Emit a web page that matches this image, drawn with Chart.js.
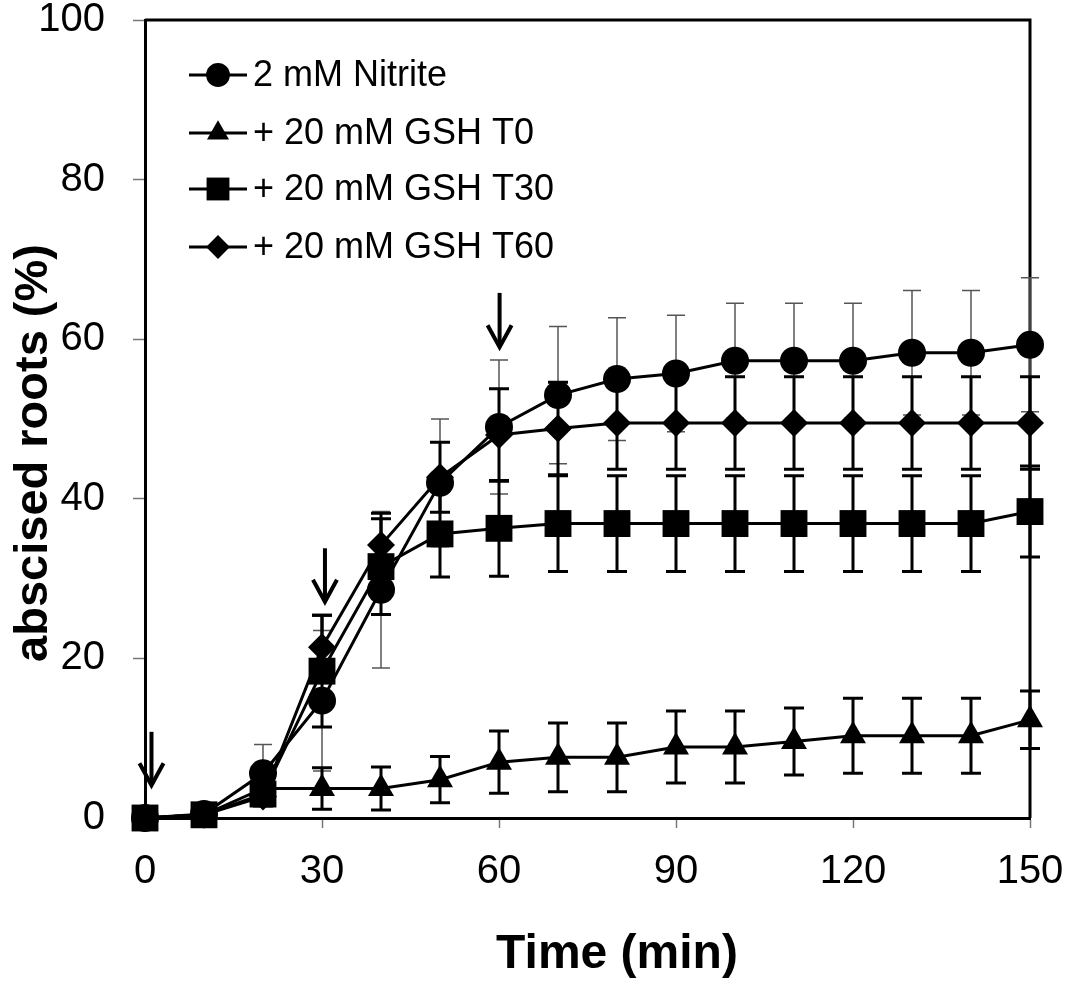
<!DOCTYPE html>
<html>
<head>
<meta charset="utf-8">
<script src="https://cdn.jsdelivr.net/npm/chart.js@4.4.1/dist/chart.umd.min.js"></script>
<style>
  body { margin: 0; background: #fff; }
  #wrap { width: 1066px; height: 989px; }
</style>
</head>
<body>
<div id="wrap"><canvas id="rootChart" width="1066" height="989"></canvas></div>
<script>
// time points (min)
const times = [0, 10, 20, 30, 40, 50, 60, 70, 80, 90, 100, 110, 120, 130, 140, 150];

// abscised roots (%)
const nitrite    = [0, 0.5, 5.6, 14.7, 28.6, 42, 49, 53, 55, 55.7, 57.3, 57.3, 57.3, 58.3, 58.3, 59.3];
const nitriteErr = [0, 0, 3.6, 8.8, 9.8, 8, 8.4, 8.6, 7.7, 7.3, 7.2, 7.2, 7.2, 7.8, 7.8, 8.4];

const gshT0    = [0, 0.4, 3.7, 3.7, 3.7, 4.8, 7, 7.6, 7.6, 8.9, 8.9, 9.6, 10.3, 10.3, 10.3, 12.3];
const gshT0Err = [0, 0, 0, 2.6, 2.7, 2.9, 3.9, 4.3, 4.3, 4.5, 4.5, 4.2, 4.7, 4.7, 4.7, 3.6];

const gshT30    = [0, 0.4, 3, 18.4, 31.5, 35.6, 36.3, 36.9, 36.9, 36.9, 36.9, 36.9, 36.9, 36.9, 36.9, 38.4];
const gshT30Err = [0, 0, 1.5, 7, 6, 5.4, 6, 6, 6, 6, 6, 6, 6, 6, 6, 5.7];

const gshT60    = [0, 0.4, 2.7, 21.4, 34.2, 42.7, 48, 48.8, 49.5, 49.5, 49.5, 49.5, 49.5, 49.5, 49.5, 49.5];
const gshT60Err = [0, 0, 1, 4, 4, 4.4, 5.8, 5.8, 5.8, 5.8, 5.8, 5.8, 5.8, 5.8, 5.8, 5.8];

// treatment arrows (time, top, tip in %)
const arrowTime = [1.1, 30.5, 60.1];
const arrowTop  = [10.8, 33.8, 65.8];
const arrowTip  = [4.1, 27.1, 59.0];

const xTicks = [0, 30, 60, 90, 120, 150];
const yTicks = [0, 20, 40, 60, 80, 100];

const xTitle = 'Time (min)';
const yTitle = 'abscised roots (%)';

const FONT = 'Arial, "Liberation Sans", sans-serif';

function pts(vals) {
  return times.map(function (t, i) { return { x: t, y: vals[i] }; });
}

function marker(ctx, style, x, y, r) {
  ctx.beginPath();
  if (style === 'circle') {
    ctx.arc(x, y, r, 0, Math.PI * 2);
  } else if (style === 'triangle') {
    ctx.moveTo(x, y - r);
    ctx.lineTo(x + r * Math.sin(Math.PI * 2 / 3), y - r * Math.cos(Math.PI * 2 / 3));
    ctx.lineTo(x - r * Math.sin(Math.PI * 2 / 3), y - r * Math.cos(Math.PI * 2 / 3));
  } else if (style === 'rect') {
    const s = Math.SQRT1_2 * r;
    ctx.rect(x - s, y - s, 2 * s, 2 * s);
  } else if (style === 'rectRot') {
    ctx.moveTo(x, y - r); ctx.lineTo(x + r, y); ctx.lineTo(x, y + r); ctx.lineTo(x - r, y);
  }
  ctx.closePath();
  ctx.fill();
}

const series = [
  { label: '2 mM Nitrite', data: nitrite, err: nitriteErr, style: 'circle', r: 14, thin: true, order: 4 },
  { label: '+ 20 mM GSH T0', data: gshT0, err: gshT0Err, style: 'triangle', r: 15, thin: false, order: 2 },
  { label: '+ 20 mM GSH T30', data: gshT30, err: gshT30Err, style: 'rect', r: 19, thin: false, order: 1 },
  { label: '+ 20 mM GSH T60', data: gshT60, err: gshT60Err, style: 'rectRot', r: 14, thin: false, order: 3 }
];

const extras = {
  id: 'extras',
  beforeDatasetsDraw(chart) {
    const ctx = chart.ctx, xs = chart.scales.x, ys = chart.scales.y;
    const a = chart.chartArea;
    ctx.save();
    // top and right frame
    ctx.strokeStyle = '#000';
    ctx.lineWidth = 3;
    ctx.beginPath();
    ctx.moveTo(a.left, a.top); ctx.lineTo(a.right, a.top); ctx.lineTo(a.right, a.bottom);
    ctx.stroke();
    // error bars
    series.forEach(function (s) {
      ctx.strokeStyle = s.thin ? '#555' : '#000';
      ctx.lineWidth = s.thin ? 1.5 : 3;
      const cap = s.thin ? 9 : 10;
      times.forEach(function (t, i) {
        const e = s.err[i];
        if (!e) return;
        const px = xs.getPixelForValue(t);
        const hi = ys.getPixelForValue(s.data[i] + e);
        const lo = ys.getPixelForValue(s.data[i] - e);
        ctx.beginPath();
        ctx.moveTo(px, hi); ctx.lineTo(px, lo);
        ctx.moveTo(px - cap, hi); ctx.lineTo(px + cap, hi);
        ctx.moveTo(px - cap, lo); ctx.lineTo(px + cap, lo);
        ctx.stroke();
      });
    });
    ctx.restore();
  },
  afterDraw(chart) {
    const ctx = chart.ctx, xs = chart.scales.x, ys = chart.scales.y;
    ctx.save();
    // arrows
    ctx.strokeStyle = '#000';
    ctx.lineWidth = 4;
    ctx.lineCap = 'butt';
    arrowTime.forEach(function (t, i) {
      const px = xs.getPixelForValue(t);
      const y0 = ys.getPixelForValue(arrowTop[i]);
      const y1 = ys.getPixelForValue(arrowTip[i]);
      ctx.beginPath();
      ctx.moveTo(px, y0); ctx.lineTo(px, y1 - 2);
      ctx.stroke();
      ctx.beginPath();
      ctx.moveTo(px - 12, y1 - 22); ctx.lineTo(px, y1); ctx.lineTo(px + 12, y1 - 22);
      ctx.stroke();
    });
    // legend
    const lx = 189, lw = 58, rows = [75, 133, 189, 247];
    ctx.font = '36px ' + FONT;
    ctx.textBaseline = 'middle';
    ctx.textAlign = 'left';
    ctx.fillStyle = '#000';
    series.forEach(function (s, i) {
      const y = rows[i];
      ctx.lineWidth = 3;
      ctx.beginPath();
      ctx.moveTo(lx, y); ctx.lineTo(lx + lw, y);
      ctx.stroke();
      marker(ctx, s.style, lx + lw / 2, y, s.r * 0.85);
      ctx.fillText(s.label, lx + lw + 6, y + 1);
    });
    // axis titles
    ctx.textAlign = 'center';
    ctx.font = 'bold 48px ' + FONT;
    ctx.fillText(xTitle, 617, 955);
    ctx.translate(34, 453);
    ctx.rotate(-Math.PI / 2);
    ctx.font = 'bold 47px ' + FONT;
    ctx.fillText(yTitle, 0, 0);
    ctx.restore();
  }
};

new Chart(document.getElementById('rootChart'), {
  type: 'line',
  data: {
    datasets: series.map(function (s) {
      return {
        label: s.label,
        data: pts(s.data),
        borderColor: '#000',
        borderWidth: 3,
        backgroundColor: '#000',
        pointStyle: s.style,
        pointRadius: s.r,
        pointBackgroundColor: '#000',
        pointBorderWidth: 0,
        tension: 0,
        fill: false,
        clip: false,
        order: s.order
      };
    })
  },
  options: {
    responsive: false,
    animation: false,
    layout: { padding: { left: 0, right: 36, top: 20, bottom: 0 } },
    plugins: { legend: { display: false }, tooltip: { enabled: false } },
    scales: {
      x: {
        type: 'linear',
        min: 0,
        max: 150,
        afterBuildTicks: function (scale) { scale.ticks = xTicks.map(function (v) { return { value: v }; }); },
        afterFit: function (scale) { scale.height = 171; scale.paddingLeft = 0; scale.paddingRight = 0; },
        grid: { drawOnChartArea: false, drawTicks: true, tickLength: 10, tickColor: '#777', tickWidth: 1.5 },
        border: { display: true, color: '#000', width: 3 },
        ticks: { color: '#000', padding: 20, maxRotation: 0, font: { family: FONT, size: 40 } },
        title: { display: false }
      },
      y: {
        min: 0,
        max: 100,
        afterBuildTicks: function (scale) { scale.ticks = yTicks.map(function (v) { return { value: v }; }); },
        afterFit: function (scale) { scale.width = 145; scale.paddingTop = 0; scale.paddingBottom = 0; },
        grid: { drawOnChartArea: false, drawTicks: true, tickLength: 12, tickColor: '#777', tickWidth: 1.5 },
        border: { display: true, color: '#000', width: 3 },
        ticks: { color: '#000', padding: 28, font: { family: FONT, size: 40 } },
        title: { display: false }
      }
    }
  },
  plugins: [extras]
});
</script>
</body>
</html>
